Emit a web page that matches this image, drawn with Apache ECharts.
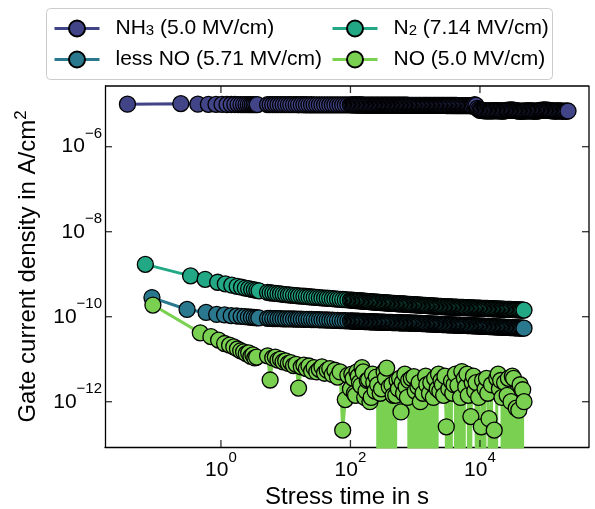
<!DOCTYPE html>
<html><head><meta charset="utf-8">
<script src="https://cdn.jsdelivr.net/npm/echarts@6/dist/echarts.min.js"></script>
<style>html,body{margin:0;padding:0;background:#fff}#c{width:595px;height:509px}</style>
</head><body><div id="c"></div>
<script>
const FONT = '"Liberation Sans", Arial, sans-serif';

// ---- categories / labels ----
const seriesNames = ['NH3', 'less NO', 'N2', 'NO'];
const legendLabels = {
  'NH3': '{b|NH}{sub|3}{b| (5.0 MV/cm)}',
  'less NO': '{b|less NO (5.71 MV/cm)}',
  'N2': '{b|N}{sub|2}{b| (7.14 MV/cm)}',
  'NO': '{b|NO (5.0 MV/cm)}'
};
const seriesColors = ['#414487', '#2a788e', '#22a884', '#7ad151'];
const xTickValues = [1, 100, 10000];
const yTickValues = [1e-12, 1e-10, 1e-8, 1e-6];
const X_MIN = 0.0162, X_MAX = 483000;
const Y_MIN = 8.6e-14, Y_MAX = 2.68e-5;
const CLIP_FLOOR = 1e-30; // non-positive readings are clipped far below the axis (as matplotlib does)

// ---- stress times (s) ----
const tailTimesA = [
  5.25, 5.75, 6.31, 6.92, 7.59, 8.32, 9.12,
  10.0, 11.0, 12.0, 13.2, 14.5, 15.8, 17.4, 19.1, 20.9, 22.9, 25.1, 27.5, 30.2, 33.1, 36.3, 39.8, 43.7, 47.9, 52.5, 57.5, 63.1, 69.2, 75.9, 83.2, 91.2
];
const tailTimesB = [
  100, 105, 110, 115, 120, 126, 132, 138, 145, 151, 158, 166, 174, 182, 191, 200, 209, 219, 229, 240,
  251, 263, 275, 288, 302, 316, 331, 347, 363, 380, 398, 417, 437, 457, 479, 501, 525, 550, 575, 603,
  631, 661, 692, 724, 759, 794, 832, 871, 912, 955,
  1000, 1050, 1100, 1150, 1200, 1260, 1320, 1380, 1450, 1510, 1580, 1660, 1740, 1820, 1910, 2000, 2090, 2190, 2290, 2400,
  2510, 2630, 2750, 2880, 3020, 3160, 3310, 3470, 3630, 3800, 3980, 4170, 4370, 4570, 4790, 5010, 5250, 5500, 5750, 6030,
  6310, 6610, 6920, 7240, 7590, 7940, 8320, 8710, 9120, 9550,
  10000, 10500, 11000, 11500, 12000, 12600, 13200, 13800, 14500, 15100, 15800, 16600, 17400, 18200, 19100, 20000, 20900, 21900, 22900, 24000,
  25100, 26300, 27500, 28800, 30200, 31600, 33100, 34700, 36300, 38000, 39800, 41700, 43700, 45700, 47900
];
const nh3ExtraTimes = [
  50100, 52500, 55000, 57500, 60300, 63100, 66100, 69200, 72400, 75900, 79400, 83200, 87100, 91200, 95500,
  100000, 105000, 110000, 115000, 120000, 126000, 132000, 138000, 145000, 151000, 158000, 166000, 174000, 182000, 191000, 200000, 209000, 219000, 229000
];
const nh3HeadTimes = [0.036, 0.24, 0.44, 0.64, 0.84, 1.04, 1.24, 1.44, 1.64, 1.84, 2.04, 2.24, 2.44, 2.64, 2.84, 3.04, 3.24, 3.44, 3.64];
const n2HeadTimes = [0.068, 0.34, 0.57, 0.89, 1.17, 1.47, 1.78, 2.08, 2.38, 2.68, 2.98, 3.28, 3.58, 3.88];
const lessNoHeadTimes = [0.086, 0.30, 0.59, 0.86, 1.14, 1.44, 1.75, 2.05, 2.35, 2.65, 2.95, 3.25, 3.55, 3.85];
const noHeadTimes = [0.089, 0.48, 0.70, 0.92, 1.14, 1.36, 1.58, 1.80, 2.02, 2.24, 2.46, 2.68, 2.90, 3.12, 3.34, 3.56];

// ---- gate current density (A/cm^2) ----
const nh3Head = [1.00e-5, 1.03e-5, 1.00e-5, 9.95e-6, 9.9e-6, 9.9e-6, 9.85e-6, 9.85e-6, 9.85e-6, 9.8e-6, 9.8e-6, 9.8e-6, 9.8e-6, 9.8e-6, 9.78e-6, 9.78e-6, 9.78e-6, 9.78e-6, 9.78e-6];
const nh3Tail = [
  9.78e-6, 9.78e-6, 9.76e-6, 9.78e-6, 9.75e-6, 9.76e-6, 9.74e-6, 9.75e-6, 9.73e-6, 9.74e-6,
  9.72e-6, 9.73e-6, 9.71e-6, 9.72e-6, 9.70e-6, 9.71e-6, 9.69e-6, 9.70e-6, 9.68e-6, 9.69e-6,
  9.67e-6, 9.68e-6, 9.66e-6, 9.67e-6, 9.65e-6, 9.66e-6, 9.64e-6, 9.64e-6, 9.62e-6, 9.63e-6, 9.61e-6, 9.62e-6,
  9.60e-6, 9.60e-6, 9.59e-6, 9.59e-6, 9.58e-6, 9.58e-6, 9.58e-6, 9.57e-6, 9.57e-6, 9.57e-6,
  9.56e-6, 9.56e-6, 9.55e-6, 9.55e-6, 9.55e-6, 9.54e-6, 9.54e-6, 9.54e-6, 9.53e-6, 9.53e-6,
  9.53e-6, 9.52e-6, 9.52e-6, 9.52e-6, 9.51e-6, 9.51e-6, 9.50e-6, 9.50e-6, 9.50e-6, 9.49e-6,
  9.49e-6, 9.49e-6, 9.48e-6, 9.48e-6, 9.47e-6, 9.47e-6, 9.47e-6, 9.46e-6, 9.46e-6, 9.46e-6,
  9.45e-6, 9.45e-6, 9.45e-6, 9.44e-6, 9.44e-6, 9.43e-6, 9.43e-6, 9.43e-6, 9.42e-6, 9.42e-6,
  9.42e-6, 9.41e-6, 9.41e-6, 9.41e-6, 9.40e-6, 9.40e-6, 9.40e-6, 9.39e-6, 9.39e-6, 9.38e-6,
  9.38e-6, 9.38e-6, 9.37e-6, 9.37e-6, 9.37e-6, 9.36e-6, 9.36e-6, 9.36e-6, 9.35e-6, 9.35e-6,
  9.35e-6, 9.34e-6, 9.34e-6, 9.34e-6, 9.33e-6, 9.33e-6, 9.33e-6, 9.32e-6, 9.32e-6, 9.32e-6,
  9.31e-6, 9.31e-6, 9.31e-6, 9.30e-6, 9.30e-6, 9.30e-6, 9.30e-6, 9.29e-6, 9.29e-6, 9.29e-6,
  9.29e-6, 9.28e-6, 9.25e-6, 9.20e-6, 9.10e-6, 9.40e-6, 9.70e-6, 9.40e-6, 8.00e-6, 7.50e-6,
  7.20e-6, 7.15e-6, 7.10e-6, 7.05e-6, 7.00e-6, 7.00e-6, 7.00e-6, 6.98e-6, 6.95e-6, 6.97e-6,
  7.00e-6, 7.02e-6, 7.05e-6, 7.02e-6, 7.00e-6, 6.98e-6, 6.95e-6, 6.92e-6, 6.90e-6, 6.95e-6,
  7.10e-6, 7.18e-6, 7.25e-6, 7.28e-6, 7.30e-6, 7.25e-6, 7.20e-6, 7.12e-6, 7.05e-6, 6.98e-6,
  6.90e-6, 6.88e-6, 6.85e-6, 6.87e-6, 6.90e-6,
  6.95e-6, 7.00e-6, 7.00e-6, 7.00e-6, 6.98e-6, 6.95e-6, 6.92e-6, 6.90e-6, 6.90e-6, 6.90e-6,
  7.00e-6, 7.10e-6, 7.15e-6, 7.20e-6, 7.25e-6, 7.30e-6, 7.28e-6, 7.25e-6, 7.18e-6, 7.10e-6,
  7.05e-6, 7.00e-6, 6.95e-6, 6.90e-6, 6.92e-6, 6.95e-6, 7.00e-6, 6.95e-6, 6.90e-6, 6.88e-6,
  6.85e-6, 6.88e-6, 6.90e-6, 6.92e-6
];
const n2Head = [1.70e-9, 9.12e-10, 7.59e-10, 6.46e-10, 5.92e-10, 5.51e-10, 5.19e-10, 4.94e-10, 4.73e-10, 4.56e-10, 4.42e-10, 4.30e-10, 4.18e-10, 4.07e-10];
const n2Tail = [
  3.72e-10, 3.66e-10, 3.60e-10, 3.54e-10, 3.48e-10, 3.43e-10, 3.37e-10,
  3.31e-10, 3.27e-10, 3.23e-10, 3.18e-10, 3.15e-10, 3.10e-10, 3.06e-10, 3.03e-10, 2.99e-10, 2.95e-10,
  2.91e-10, 2.87e-10, 2.84e-10, 2.81e-10, 2.77e-10, 2.74e-10, 2.72e-10, 2.69e-10, 2.65e-10, 2.62e-10,
  2.59e-10, 2.57e-10, 2.54e-10, 2.51e-10, 2.48e-10,
  2.45e-10, 2.44e-10, 2.43e-10, 2.42e-10, 2.40e-10, 2.39e-10, 2.38e-10, 2.37e-10, 2.35e-10, 2.34e-10,
  2.32e-10, 2.31e-10, 2.30e-10, 2.29e-10, 2.27e-10, 2.26e-10, 2.25e-10, 2.24e-10, 2.22e-10, 2.21e-10,
  2.20e-10, 2.19e-10, 2.17e-10, 2.16e-10, 2.15e-10, 2.14e-10, 2.13e-10, 2.12e-10, 2.11e-10, 2.10e-10,
  2.09e-10, 2.08e-10, 2.07e-10, 2.06e-10, 2.05e-10, 2.04e-10, 2.03e-10, 2.02e-10, 2.01e-10, 2.005e-10,
  2.00e-10, 1.99e-10, 1.98e-10, 1.97e-10, 1.96e-10, 1.95e-10, 1.94e-10, 1.93e-10, 1.92e-10, 1.915e-10,
  1.91e-10, 1.90e-10, 1.89e-10, 1.88e-10, 1.87e-10, 1.86e-10, 1.85e-10, 1.845e-10, 1.84e-10, 1.83e-10,
  1.82e-10, 1.81e-10, 1.80e-10, 1.795e-10, 1.79e-10, 1.78e-10, 1.77e-10, 1.76e-10, 1.75e-10, 1.745e-10,
  1.74e-10, 1.73e-10, 1.72e-10, 1.715e-10, 1.71e-10, 1.70e-10, 1.69e-10, 1.69e-10, 1.69e-10, 1.68e-10,
  1.67e-10, 1.67e-10, 1.67e-10, 1.665e-10, 1.66e-10, 1.655e-10, 1.65e-10, 1.645e-10, 1.64e-10, 1.635e-10,
  1.63e-10, 1.625e-10, 1.62e-10, 1.615e-10, 1.61e-10, 1.605e-10, 1.60e-10, 1.595e-10, 1.59e-10, 1.585e-10,
  1.58e-10, 1.575e-10, 1.57e-10, 1.57e-10, 1.57e-10, 1.565e-10, 1.56e-10, 1.555e-10, 1.55e-10, 1.545e-10,
  1.54e-10, 1.535e-10, 1.53e-10, 1.525e-10, 1.52e-10, 1.515e-10, 1.51e-10, 1.505e-10, 1.50e-10, 1.495e-10,
  1.49e-10, 1.485e-10, 1.48e-10, 1.48e-10, 1.48e-10, 1.475e-10, 1.47e-10, 1.465e-10, 1.46e-10, 1.455e-10,
  1.45e-10, 1.445e-10, 1.44e-10, 1.435e-10, 1.43e-10
];
const lessNoHead = [2.82e-10, 1.48e-10, 1.26e-10, 1.13e-10, 1.10e-10, 1.06e-10, 1.04e-10, 1.02e-10, 1.00e-10, 9.84e-11, 9.72e-11, 9.57e-11, 9.46e-11, 9.38e-11];
const lessNoTail = [
  9.12e-11, 9.10e-11, 9.06e-11, 9.04e-11, 8.99e-11, 8.97e-11, 8.93e-11,
  8.91e-11, 8.87e-11, 8.85e-11, 8.83e-11, 8.79e-11, 8.75e-11, 8.73e-11, 8.69e-11, 8.67e-11, 8.63e-11,
  8.59e-11, 8.57e-11, 8.53e-11, 8.49e-11, 8.45e-11, 8.39e-11, 8.36e-11, 8.30e-11, 8.26e-11, 8.20e-11,
  8.17e-11, 8.13e-11, 8.07e-11, 8.04e-11, 7.98e-11,
  7.94e-11, 7.92e-11, 7.91e-11, 7.88e-11, 7.85e-11, 7.83e-11, 7.82e-11, 7.79e-11, 7.76e-11, 7.74e-11,
  7.73e-11, 7.71e-11, 7.69e-11, 7.66e-11, 7.64e-11, 7.62e-11, 7.60e-11, 7.57e-11, 7.55e-11, 7.53e-11,
  7.52e-11, 7.50e-11, 7.48e-11, 7.45e-11, 7.43e-11, 7.41e-11, 7.40e-11, 7.38e-11, 7.36e-11, 7.34e-11,
  7.33e-11, 7.32e-11, 7.31e-11, 7.29e-11, 7.28e-11, 7.26e-11, 7.24e-11, 7.22e-11, 7.21e-11, 7.20e-11,
  7.19e-11, 7.17e-11, 7.16e-11, 7.14e-11, 7.13e-11, 7.12e-11, 7.11e-11, 7.09e-11, 7.08e-11, 7.06e-11,
  7.05e-11, 7.02e-11, 7.00e-11, 6.97e-11, 6.95e-11, 6.92e-11, 6.90e-11, 6.88e-11, 6.86e-11, 6.83e-11,
  6.81e-11, 6.78e-11, 6.76e-11, 6.73e-11, 6.71e-11, 6.69e-11, 6.67e-11, 6.64e-11, 6.62e-11, 6.60e-11,
  6.58e-11, 6.55e-11, 6.53e-11, 6.51e-11, 6.49e-11, 6.47e-11, 6.46e-11, 6.44e-11, 6.43e-11, 6.40e-11,
  6.38e-11, 6.36e-11, 6.35e-11, 6.33e-11, 6.31e-11, 6.29e-11, 6.28e-11, 6.26e-11, 6.25e-11, 6.23e-11,
  6.21e-11, 6.19e-11, 6.18e-11, 6.16e-11, 6.14e-11, 6.12e-11, 6.11e-11, 6.09e-11, 6.07e-11, 6.05e-11,
  6.03e-11, 6.00e-11, 5.98e-11, 5.96e-11, 5.94e-11, 5.92e-11, 5.90e-11, 5.88e-11, 5.86e-11, 5.84e-11,
  5.82e-11, 5.80e-11, 5.78e-11, 5.76e-11, 5.74e-11, 5.72e-11, 5.71e-11, 5.69e-11, 5.68e-11, 5.66e-11,
  5.64e-11, 5.62e-11, 5.60e-11, 5.58e-11, 5.56e-11, 5.54e-11, 5.52e-11, 5.50e-11, 5.48e-11, 5.46e-11,
  5.45e-11, 5.43e-11, 5.41e-11, 5.39e-11, 5.37e-11
];
const noHead = [1.88e-10, 4.17e-11, 3.39e-11, 2.82e-11, 2.34e-11, 2.14e-11, 1.95e-11, 1.74e-11, 1.58e-11, 1.48e-11, 1.35e-11, 1.41e-11, 1.17e-11, 1.26e-11, 1.07e-11, 1.12e-11];
// 0 = non-positive reading (drawn as a drop to the bottom of the log axis)
const noTail = [
  1.20e-11, 3.24e-12, 1.07e-11, 1.12e-11, 9.55e-12, 1.00e-11, 8.71e-12, 9.12e-12, 7.94e-12, 8.32e-12,
  7.08e-12, 7.59e-12, 2.09e-12, 6.61e-12, 7.24e-12, 6.03e-12, 6.92e-12, 5.25e-12, 6.31e-12, 5.01e-12,
  5.75e-12, 6.61e-12, 4.68e-12, 5.50e-12, 6.03e-12, 4.37e-12, 5.50e-12, 3.80e-12, 5.01e-12, 2.14e-13,
  1.12e-12, 4.17e-12,
  2.00e-12, 4.47e-12, 3.55e-12, 1.58e-12, 1.41e-12, 5.01e-12, 3.98e-12, 2.82e-12, 2.40e-12, 6.31e-12,
  5.01e-12, 1.26e-12, 1.78e-12, 3.16e-12, 3.31e-12, 1.00e-12, 1.26e-12, 4.47e-12, 2.82e-12, 1.78e-12,
  3.80e-12, 2.51e-12, 0, 1.58e-12, 2.00e-12, 0, 5.01e-12, 3.55e-12, 6.17e-12, 0,
  2.24e-12, 0, 2.51e-12, 1.41e-12, 0, 1.41e-12, 3.16e-12, 2.00e-12, 3.55e-12, 5.75e-13,
  2.82e-12, 1.58e-12, 4.47e-12, 2.24e-12, 1.26e-12, 3.16e-12, 0, 3.55e-12, 0, 3.89e-12,
  1.78e-12, 0, 2.24e-12, 2.82e-12, 1.00e-12, 0, 1.58e-12, 0, 3.98e-12, 2.51e-12,
  0, 1.58e-12, 2.82e-12, 0, 1.26e-12, 3.55e-12, 0, 2.00e-12, 4.47e-12, 1.78e-12,
  3.16e-12, 2.51e-12, 1.41e-12, 3.98e-12, 2.57e-13, 0, 2.00e-12, 0, 3.02e-12, 1.58e-12,
  2.51e-12, 4.47e-12, 0, 2.40e-12, 0, 1.26e-12, 5.13e-12, 0, 3.55e-12, 2.24e-12,
  4.47e-12, 1.41e-12, 0, 4.47e-13, 2.82e-12, 3.98e-12, 1.78e-12, 2.82e-12, 0, 1.26e-12,
  0, 2.57e-13, 3.16e-12, 0, 2.00e-12, 3.55e-12, 1.58e-12, 3.98e-13, 0, 2.51e-12,
  0, 2.14e-13, 0, 3.55e-12, 4.47e-12, 2.00e-12, 3.16e-12, 1.26e-12, 0, 2.82e-12,
  0, 1.41e-12, 3.55e-12, 0, 1.00e-12, 3.98e-12, 3.55e-12, 0, 7.08e-13, 0,
  6.31e-13, 2.51e-12, 0, 1.91e-12, 1.00e-12
];

function pairs(times, values) {
  return times.map((t, i) => [t, values[i] > 0 ? values[i] : CLIP_FLOOR]);
}
const tailTimes = tailTimesA.concat(tailTimesB);
const seriesData = [
  pairs(nh3HeadTimes.concat(tailTimes, nh3ExtraTimes), nh3Head.concat(nh3Tail)),
  pairs(lessNoHeadTimes.concat(tailTimes), lessNoHead.concat(lessNoTail)),
  pairs(n2HeadTimes.concat(tailTimes), n2Head.concat(n2Tail)),
  pairs(noHeadTimes.concat(tailTimes), noHead.concat(noTail))
];

function powLabel(v) {
  const e = Math.round(Math.log10(v));
  return '{b|10}{sup|' + (e < 0 ? '\u2212' + (-e) : e) + '}';
}
const tickRich = {
  b: { fontSize: 21, fontFamily: FONT, color: '#000', lineHeight: 40 },
  sup: { fontSize: 15, fontFamily: FONT, color: '#000', lineHeight: 15, verticalAlign: 'top' }
};
const lineBlack = { color: '#000', width: 1.3 };
function makeAxis(kind, extra) {
  const ticks = kind === 'x' ? xTickValues : yTickValues;
  return Object.assign({
    type: 'log', logBase: 10,
    min: kind === 'x' ? X_MIN : Y_MIN, max: kind === 'x' ? X_MAX : Y_MAX,
    splitLine: { show: false }, minorTick: { show: false }, minorSplitLine: { show: false },
    axisLine: { show: true, onZero: false, lineStyle: lineBlack },
    axisTick: { show: false },
    axisLabel: { show: true, customValues: ticks, formatter: powLabel, rich: tickRich, margin: 3 },
    axisPointer: { show: false }
  }, extra);
}

const legendBase = {
  orient: 'vertical', top: 18, itemWidth: 45, itemHeight: 20, itemGap: 10, padding: 0,
  selectedMode: false, lineStyle: { width: 3 },
  formatter: n => legendLabels[n],
  textStyle: {
    fontSize: 21, fontFamily: FONT, color: '#000', padding: [0, 0, 0, 11],
    rich: {
      b: { fontSize: 21, fontFamily: FONT, color: '#000', lineHeight: 20 },
      sub: { fontSize: 15, fontFamily: FONT, color: '#000', lineHeight: 12, verticalAlign: 'bottom' }
    }
  }
};

// Data series
const allSeries = seriesNames.map((name, i) => ({
  name: name, type: 'line',
  data: seriesData[i],
  clip: true,
  symbol: 'circle', symbolSize: 16, showSymbol: true, showAllSymbol: true,
  lineStyle: { color: seriesColors[i], width: 3 },
  itemStyle: { color: seriesColors[i], borderColor: '#000', borderWidth: 1.3 },
  emphasis: { disabled: true },
  z: 2
}));

// Top and right edges of the axes box, drawn along the axis extents.
allSeries.push({
  name: 'frame', type: 'line', clip: false, silent: true, symbol: 'none', z: 5,
  data: [[X_MIN, Y_MAX], [X_MAX, Y_MAX], [X_MAX, Y_MIN]],
  lineStyle: { color: '#000', width: 1.3 },
  emphasis: { disabled: true }
});

// Inward tick marks on all four sides, placed at the tick values by the axes' scales.
const TICK = 7, TW = 1.3;
const tickData = [];
xTickValues.forEach(v => {
  tickData.push({ value: [v, Y_MIN], symbolSize: [TW, TICK], symbolOffset: [0, -TICK / 2] });
  tickData.push({ value: [v, Y_MAX], symbolSize: [TW, TICK], symbolOffset: [0, TICK / 2] });
});
yTickValues.forEach(v => {
  tickData.push({ value: [X_MIN, v], symbolSize: [TICK, TW], symbolOffset: [TICK / 2, 0] });
  tickData.push({ value: [X_MAX, v], symbolSize: [TICK, TW], symbolOffset: [-TICK / 2, 0] });
});
allSeries.push({
  name: 'ticks', type: 'scatter', clip: false, silent: true, symbol: 'rect', z: 5,
  data: tickData,
  itemStyle: { color: '#000', borderWidth: 0 },
  emphasis: { disabled: true }
});

const chart = echarts.init(document.getElementById('c'), null, { renderer: 'canvas' });
chart.setOption({
  animation: false,
  backgroundColor: '#fff',
  grid: { left: 105, top: 86, width: 484, height: 361, containLabel: false, outerBoundsMode: 'none' },
  graphic: [{ type: 'rect', silent: true, shape: { x: 46.5, y: 8.5, width: 506, height: 71, r: 4 },
    style: { fill: 'rgba(255,255,255,0.8)', stroke: '#cccccc', lineWidth: 1 } }],
  legend: [
    Object.assign({}, legendBase, { left: 53, data: [seriesNames[0], seriesNames[1]] }),
    Object.assign({}, legendBase, { left: 331, data: [seriesNames[2], seriesNames[3]] })
  ],
  xAxis: makeAxis('x', {
    name: 'Stress time in s', nameLocation: 'middle', nameGap: 34,
    nameTextStyle: { fontSize: 24, fontFamily: FONT, color: '#000' }
  }),
  yAxis: makeAxis('y', {
    name: '{b|Gate current density in A/cm}{sup|2}', nameLocation: 'middle', nameGap: 62,
    nameTextStyle: {
      fontSize: 24, fontFamily: FONT, color: '#000',
      rich: {
        b: { fontSize: 24, fontFamily: FONT, color: '#000', lineHeight: 30 },
        sup: { fontSize: 17, fontFamily: FONT, color: '#000', lineHeight: 17, verticalAlign: 'top' }
      }
    }
  }),
  series: allSeries
});
</script></body></html>
